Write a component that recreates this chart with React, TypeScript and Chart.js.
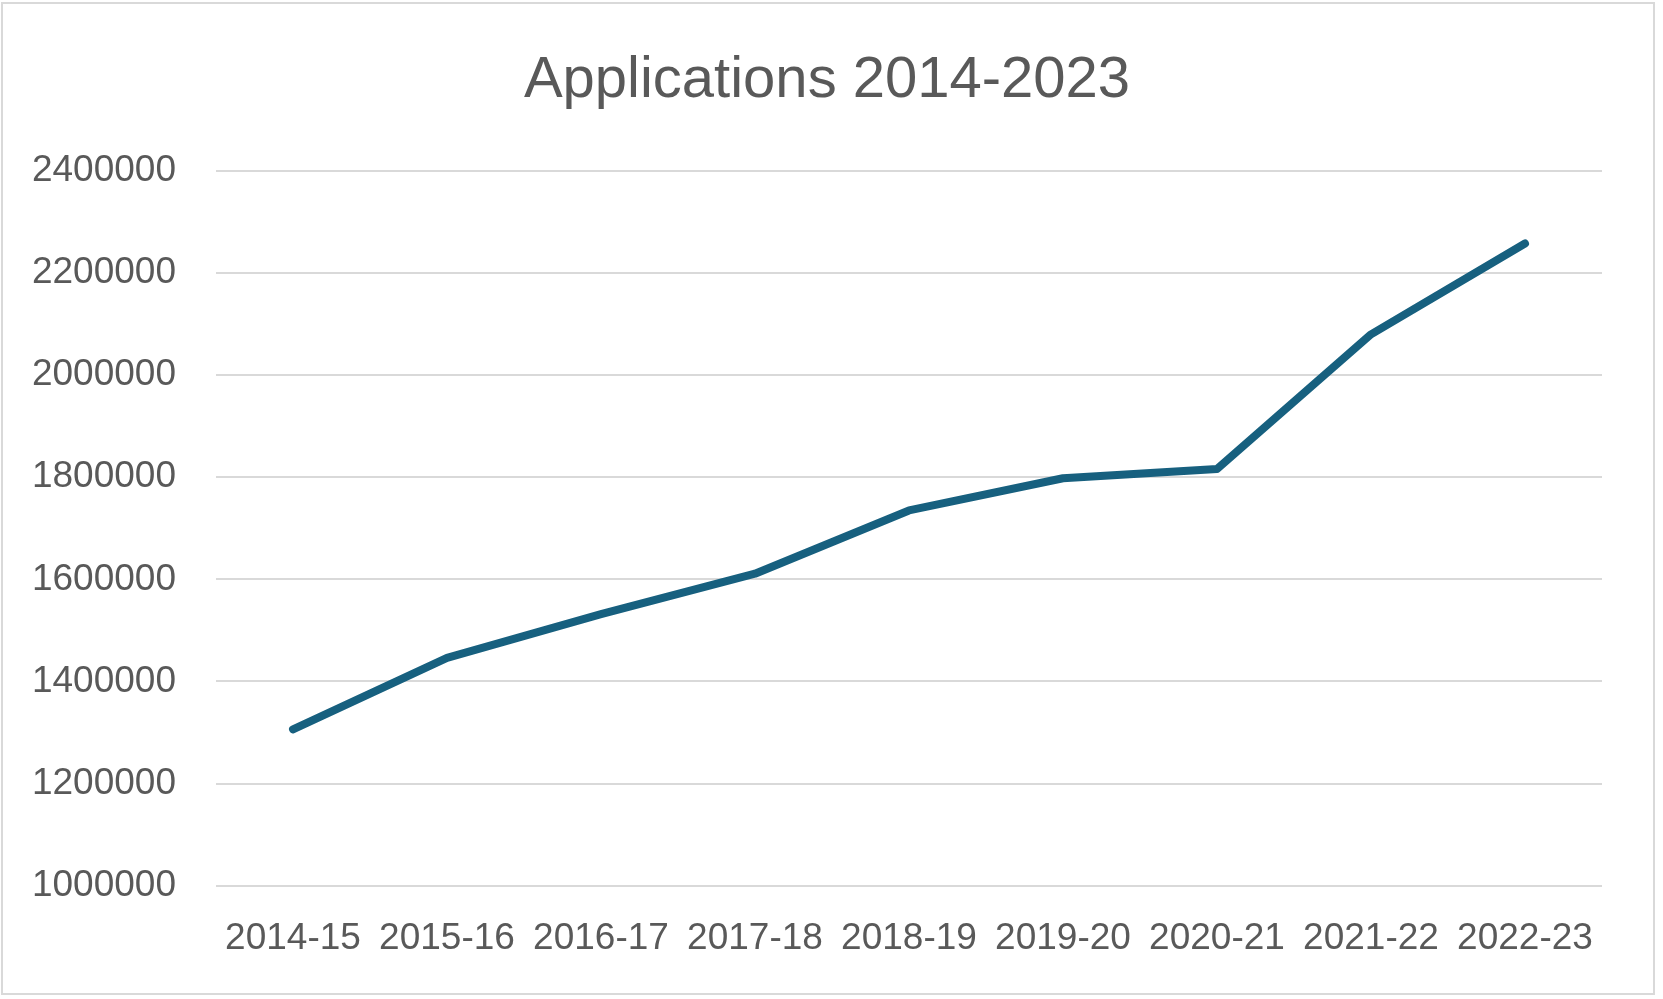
import React, { useEffect, useRef } from "react";
import { Chart, registerables } from "chart.js";

Chart.register(...registerables);

const categories = ["2014-15", "2015-16", "2016-17", "2017-18", "2018-19", "2019-20", "2020-21", "2021-22", "2022-23"];
const applications = [1306000, 1446000, 1532000, 1611000, 1735000, 1798000, 1816000, 2080000, 2258000];
const titleText = "Applications 2014-2023";
const yMin = 1000000;
const yMax = 2400000;
const yStep = 200000;

const FONT = "'Liberation Sans', Arial, sans-serif";
const TEXT_COLOR = "#595959";
const GRID_COLOR = "#d9d9d9";
const LINE_COLOR = "#17607f";

const framePlugin = {
  id: "frame",
  beforeDraw(chart: any) {
    const ctx = chart.ctx;
    ctx.save();
    ctx.fillStyle = "#ffffff";
    ctx.fillRect(0, 0, chart.width, chart.height);
    ctx.strokeStyle = GRID_COLOR;
    ctx.lineWidth = 2;
    ctx.strokeRect(2, 3, 1652, 991);
    ctx.restore();
  },
  afterDraw(chart: any) {
    const ctx = chart.ctx;
    ctx.save();
    ctx.fillStyle = TEXT_COLOR;
    ctx.font = `58px ${FONT}`;
    ctx.textAlign = "center";
    ctx.textBaseline = "alphabetic";
    ctx.fillText(titleText, 827, 97);
    ctx.restore();
  },
};

export default function App() {
  const ref = useRef<HTMLCanvasElement | null>(null);

  useEffect(() => {
    document.body.style.margin = "0";
    const canvas = ref.current;
    if (!canvas) return;
    const chart = new Chart(canvas, {
      type: "line",
      data: {
        labels: categories,
        datasets: [
          {
            label: titleText,
            data: applications,
            borderColor: LINE_COLOR,
            backgroundColor: LINE_COLOR,
            borderWidth: 8,
            borderCapStyle: "round",
            borderJoinStyle: "round",
            pointRadius: 0,
            pointHoverRadius: 0,
            tension: 0,
            fill: false,
          },
        ],
      },
      options: {
        responsive: false,
        animation: false,
        devicePixelRatio: 1,
        layout: { padding: { top: 171, right: 61, bottom: 0, left: 0 } },
        plugins: {
          legend: { display: false },
          title: { display: false },
          tooltip: { enabled: false },
        },
        scales: {
          x: {
            type: "category",
            offset: true,
            grid: { display: false, drawTicks: false },
            border: { display: false },
            ticks: {
              color: TEXT_COLOR,
              font: { family: FONT, size: 37 },
              padding: 31,
              maxRotation: 0,
              autoSkip: false,
            },
            afterFit(scale: any) {
              scale.height = 113.4;
            },
          },
          y: {
            min: yMin,
            max: yMax,
            grid: { color: GRID_COLOR, lineWidth: 2, drawTicks: false },
            border: { display: false },
            ticks: {
              stepSize: yStep,
              color: TEXT_COLOR,
              font: { family: FONT, size: 37 },
              padding: 40,
              callback: (v: any) => String(v),
            },
            afterFit(scale: any) {
              scale.width = 216;
            },
          },
        },
      },
      plugins: [framePlugin],
    });
    return () => chart.destroy();
  }, []);

  return (
    <div style={{ position: "absolute", left: 0, top: 0, width: 1663, height: 999 }}>
      <canvas ref={ref} width={1663} height={999} style={{ display: "block", width: 1663, height: 999 }} />
    </div>
  );
}
